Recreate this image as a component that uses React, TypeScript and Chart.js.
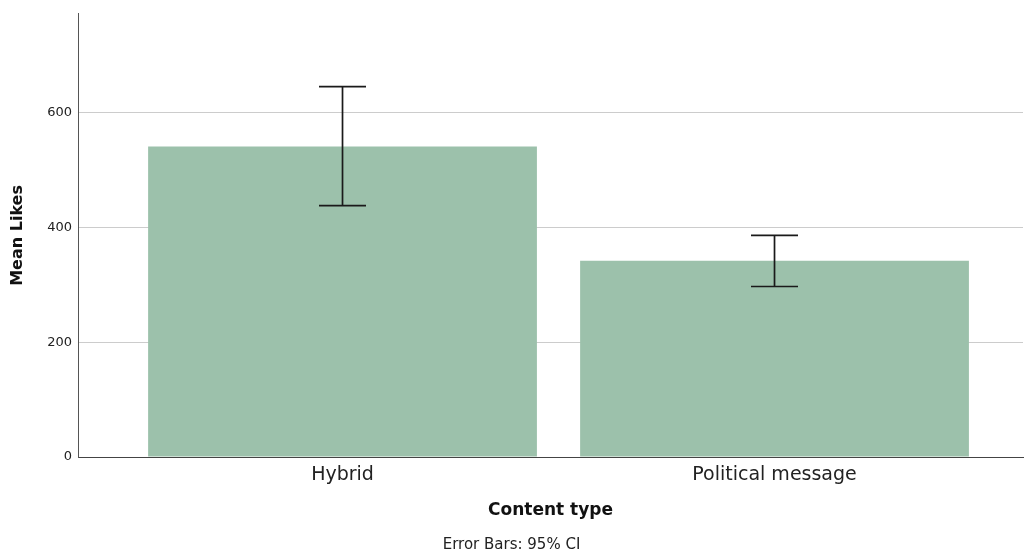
import React, { useEffect, useRef } from "react";
import { Chart, registerables } from "chart.js";

Chart.register(...registerables);

// Mean likes per content type, with 95% confidence intervals
const categories = ["Hybrid", "Political message"];
const meanLikes = [541, 342];
const ciLow = [438, 297];
const ciHigh = [645, 386];
const yTicks = [0, 200, 400, 600];

const FONT = "'DejaVu Sans', sans-serif";

const errorBarPlugin = {
  id: "errorBars",
  afterDatasetsDraw(chart: any) {
    const { ctx, scales } = chart;
    const xs = scales.x;
    const ys = scales.y;
    ctx.save();
    ctx.strokeStyle = "#1a1a1a";
    ctx.lineWidth = 1.7;
    categories.forEach((_, i) => {
      const x = xs.getPixelForValue(i);
      const yTop = ys.getPixelForValue(ciHigh[i]);
      const yBot = ys.getPixelForValue(ciLow[i]);
      const half = 23.5;
      ctx.beginPath();
      ctx.moveTo(x, yTop);
      ctx.lineTo(x, yBot);
      ctx.moveTo(x - half, yTop);
      ctx.lineTo(x + half, yTop);
      ctx.moveTo(x - half, yBot);
      ctx.lineTo(x + half, yBot);
      ctx.stroke();
    });
    ctx.restore();
  },
};

export default function App() {
  const canvasRef = useRef<HTMLCanvasElement | null>(null);

  useEffect(() => {
    if (!canvasRef.current) return;
    const chart = new Chart(canvasRef.current, {
      type: "bar",
      data: {
        datasets: [
          {
            label: "Mean Likes",
            data: meanLikes.map((v, i) => ({ x: i, y: v })),
            backgroundColor: "#9cc1ab",
            borderWidth: 0,
            categoryPercentage: 1,
            barPercentage: 0.9,
          },
        ],
      },
      options: {
        responsive: false,
        animation: false,
        layout: { padding: { top: 13, right: 1, left: 0, bottom: 0 } },
        plugins: {
          legend: { display: false },
          tooltip: { enabled: false },
          title: {
            display: true,
            position: "bottom",
            text: "Error Bars: 95% CI",
            color: "#222222",
            font: { family: FONT, size: 15, weight: "normal" },
            padding: { top: 0, bottom: 0 },
          },
        },
        scales: {
          x: {
            type: "linear",
            min: -0.6123,
            max: 1.5752,
            offset: false,
            afterBuildTicks: (scale: any) => {
              scale.ticks = categories.map((_, i) => ({ value: i }));
            },
            afterFit: (scale: any) => {
              scale.height = 79;
            },
            ticks: {
              autoSkip: false,
              maxRotation: 0,
              padding: 7,
              color: "#222222",
              font: { family: FONT, size: 19 },
              callback: (v: any) => categories[Math.round(Number(v))] ?? "",
            },
            grid: { display: true, color: "rgba(0,0,0,0)", drawTicks: false },
            border: { display: true, color: "#444444", width: 1 },
            title: {
              display: true,
              text: "Content type",
              color: "#111111",
              font: { family: FONT, size: 17, weight: "bold" },
              padding: { top: 0, bottom: 15 },
            },
          },
          y: {
            min: 0,
            max: 772,
            afterBuildTicks: (scale: any) => {
              scale.ticks = yTicks.map((v) => ({ value: v }));
            },
            afterFit: (scale: any) => {
              scale.width = 78;
            },
            ticks: {
              padding: 6,
              color: "#222222",
              font: { family: FONT, size: 13 },
            },
            grid: { color: "#cccccc", lineWidth: 1, drawTicks: false },
            border: { display: true, color: "#555555", width: 1 },
            title: {
              display: true,
              text: "Mean Likes",
              color: "#111111",
              font: { family: FONT, size: 16, weight: "bold" },
              padding: { top: 8, bottom: 0 },
            },
          },
        },
      },
      plugins: [errorBarPlugin],
    } as any);
    return () => chart.destroy();
  }, []);

  return (
    <div style={{ position: "absolute", left: 0, top: 0, width: 1024, height: 554, background: "#ffffff" }}>
      <canvas ref={canvasRef} width={1024} height={554} />
    </div>
  );
}
